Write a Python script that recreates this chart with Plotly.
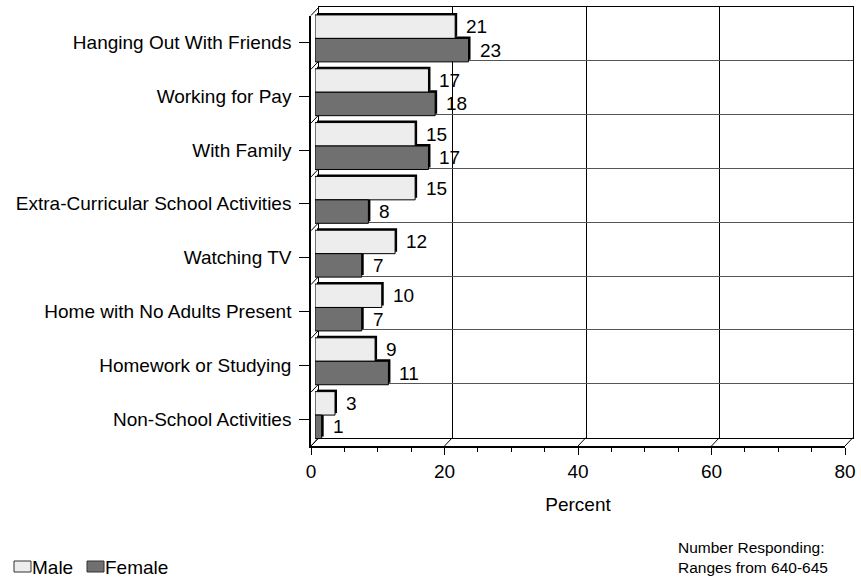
import plotly.graph_objects as go

# ---------------- data ----------------
categories = [
    "Hanging Out With Friends",
    "Working for Pay",
    "With Family",
    "Extra-Curricular School Activities",
    "Watching TV",
    "Home with No Adults Present",
    "Homework or Studying",
    "Non-School Activities",
]
male = [21, 17, 15, 15, 12, 10, 9, 3]
female = [23, 18, 17, 8, 7, 7, 11, 1]
series_names = ["Male", "Female"]
x_ticks = [0, 20, 40, 60, 80]
x_title = "Percent"
note_lines = ["Number Responding:", "Ranges from 640-645"]

# ---------------- layout constants ----------------
W_FIG, H_FIG = 861, 577
ML, MR, MT, MB = 311, 8, 7, 131
PW = W_FIG - ML - MR
PH = H_FIG - MT - MB
DEPTH_X, DEPTH_Y = 8, 8.5
BAR_DX, BAR_DY = 4, 4
SHADOW = 2
XMAX = 80
n = len(categories)
yr = [n - 0.5, -0.5]

FONT = "Liberation Sans, Arial, sans-serif"
FS = 19
C_MALE = "#EDEDED"
C_FEMALE = "#707070"

fxd = [0, 1 - DEPTH_X / PW]
fyd = [0, 1 - DEPTH_Y / PH]
bxd = [DEPTH_X / PW, 1]
byd = [DEPTH_Y / PH, 1]
barxd = [BAR_DX / PW, 1 - (DEPTH_X - BAR_DX) / PW]
baryd = [BAR_DY / PH, 1 - (DEPTH_Y - BAR_DY) / PH]


def xmap(v, dom):
    return dom[0] + (v / XMAX) * (dom[1] - dom[0])


def ymap(v, dom):
    frac = (yr[0] - v) / (yr[0] - yr[1])
    return dom[0] + frac * (dom[1] - dom[0])


def px_x(p):
    return (p - ML) / PW


def px_y(p):
    return (H_FIG - MB - p) / PH


fig = go.Figure()

# placeholder traces so the front and back-wall subplots get drawn
fig.add_trace(go.Scatter(x=[None], y=[None], xaxis="x", yaxis="y",
                         showlegend=False, hoverinfo="skip"))
fig.add_trace(go.Scatter(x=[None], y=[None], xaxis="x2", yaxis="y2",
                         showlegend=False, hoverinfo="skip"))

# units per pixel on the bar axes
ux = XMAX / (PW * (barxd[1] - barxd[0]))
uy = n / (PH * (baryd[1] - baryd[0]))

BW = 0.436
half = BW / 2
pos_m = [i - half for i in range(n)]
pos_f = [i + half for i in range(n)]

# shadow (3D side faces)
for vals, pos in ((male, pos_m), (female, pos_f)):
    fig.add_trace(go.Bar(
        x=vals, y=[p - SHADOW * uy for p in pos], base=SHADOW * ux,
        orientation="h", width=BW, marker=dict(color="black", line=dict(width=0)),
        xaxis="x3", yaxis="y3", showlegend=False, hoverinfo="skip",
    ))

for name, vals, pos, col in ((series_names[0], male, pos_m, C_MALE),
                             (series_names[1], female, pos_f, C_FEMALE)):
    fig.add_trace(go.Bar(
        x=vals, y=pos, orientation="h", width=BW, name=name,
        marker=dict(color=col, line=dict(color="black", width=1)),
        xaxis="x3", yaxis="y3", showlegend=False,
    ))

annotations = []
for vals, pos in ((male, pos_m), (female, pos_f)):
    for v, p in zip(vals, pos):
        annotations.append(dict(
            x=v, y=p, xref="x3", yref="y3", text=str(v), showarrow=False,
            xanchor="left", yanchor="middle", xshift=7 + SHADOW,
            font=dict(family=FONT, size=FS, color="black"),
        ))

shapes = []
LINE = dict(color="black", width=1)
# floor slants
for v in x_ticks:
    shapes.append(dict(type="line", xref="paper", yref="paper",
                       x0=xmap(v, fxd), y0=fyd[0], x1=xmap(v, bxd), y1=byd[0],
                       line=LINE, layer="below"))
# left wall slants at category boundaries
for b in [k - 0.5 for k in range(n + 1)]:
    shapes.append(dict(type="line", xref="paper", yref="paper",
                       x0=fxd[0], y0=ymap(b, fyd), x1=bxd[0], y1=ymap(b, byd),
                       line=LINE, layer="below"))

# custom legend (bottom-left)
legend_items = [(series_names[0], C_MALE, 14), (series_names[1], C_FEMALE, 87)]
for name, col, x0 in legend_items:
    shapes.append(dict(type="rect", xref="paper", yref="paper",
                       x0=px_x(x0), x1=px_x(x0 + 17), y0=px_y(572), y1=px_y(561),
                       fillcolor=col, line=dict(color="#333333", width=1)))
    annotations.append(dict(x=px_x(x0 + 17), y=px_y(567), xref="paper", yref="paper",
                            text=name, showarrow=False, xanchor="left", yanchor="middle",
                            xshift=-1,
                            font=dict(family=FONT, size=FS, color="black")))

annotations.append(dict(x=px_x(676), y=px_y(557), xref="paper", yref="paper",
                        text="<br>".join(note_lines), showarrow=False, align="left",
                        xanchor="left", yanchor="middle",
                        font=dict(family=FONT, size=15.5, color="black")))

fig.update_layout(
    width=W_FIG, height=H_FIG,
    margin=dict(l=ML, r=MR, t=MT, b=MB, pad=0, autoexpand=False),
    paper_bgcolor="white", plot_bgcolor="rgba(0,0,0,0)",
    font=dict(family=FONT, size=FS, color="black"),
    barmode="overlay", showlegend=False,
    shapes=shapes, annotations=annotations,
    xaxis=dict(domain=fxd, anchor="y", range=[0, XMAX], tickvals=x_ticks,
               ticks="outside", ticklen=7, tickwidth=1, tickcolor="black",
               minor=dict(dtick=5, ticks="outside", ticklen=4, tickwidth=1,
                          tickcolor="black", showgrid=False),
               showline=True, linecolor="black", linewidth=1.5,
               showgrid=False, zeroline=False,
               title=dict(text=x_title, standoff=17, font=dict(size=FS)),
               tickfont=dict(size=FS)),
    yaxis=dict(domain=fyd, anchor="x", range=yr, tickvals=list(range(n)),
               ticktext=categories, ticks="outside", ticklen=10, tickwidth=1,
               tickcolor="black", showline=True, linecolor="black", linewidth=1.5,
               showgrid=False, zeroline=False, ticklabelstandoff=4,
               tickfont=dict(size=FS)),
    xaxis2=dict(domain=bxd, anchor="y2", range=[0, XMAX], tickvals=[20, 40, 60],
                showgrid=True, gridcolor="black", gridwidth=1,
                showline=True, mirror=True, linecolor="black", linewidth=1,
                showticklabels=False, ticks="", zeroline=False),
    yaxis2=dict(domain=byd, anchor="x2", range=yr,
                tickvals=[i + 0.5 for i in range(n - 1)],
                showgrid=True, gridcolor="#555555", gridwidth=1,
                showline=True, mirror=True, linecolor="black", linewidth=1,
                showticklabels=False, ticks="", zeroline=False),
    xaxis3=dict(domain=barxd, anchor="y3", range=[0, XMAX], visible=False),
    yaxis3=dict(domain=baryd, anchor="x3", range=yr, visible=False),
)

fig.write_html(
    "out.html",
    config={"displayModeBar": False},
    post_script="document.body.style.margin='0';document.body.style.overflow='hidden';",
)
